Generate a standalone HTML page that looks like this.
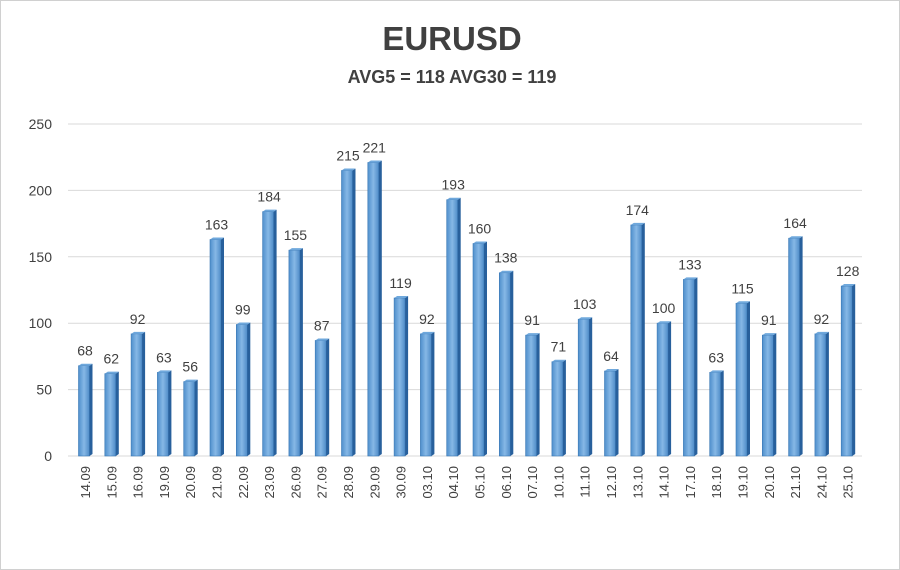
<!DOCTYPE html>
<html><head><meta charset="utf-8"><style>
body{margin:0;background:#fff}
svg{display:block;font-family:"Liberation Sans",sans-serif}
</style></head><body>
<svg id="chart" width="900" height="570" viewBox="0 0 900 570">
<defs>
<linearGradient id="bg" x1="0" x2="1" y1="0" y2="0">
<stop offset="0" stop-color="#4f8fcc"/><stop offset="0.5" stop-color="#86b8e6"/><stop offset="1" stop-color="#4f8cc8"/>
</linearGradient>
</defs>
<rect x="0.5" y="0.5" width="899" height="569" fill="#fff" stroke="#d0d0d0"/>
<text x="452" y="50" text-anchor="middle" font-size="33" font-weight="bold" fill="#404040">EURUSD</text>
<text x="452" y="83" text-anchor="middle" font-size="18" font-weight="bold" fill="#404040">AVG5 = 118 AVG30 = 119</text>
<g id="grid"></g><g id="bars"></g><g id="labels"></g>
</svg>
<script>
const categories=["14.09","15.09","16.09","19.09","20.09","21.09","22.09","23.09","26.09","27.09","28.09","29.09","30.09","03.10","04.10","05.10","06.10","07.10","10.10","11.10","12.10","13.10","14.10","17.10","18.10","19.10","20.10","21.10","24.10","25.10"];
const values=[68,62,92,63,56,163,99,184,155,87,215,221,119,92,193,160,138,91,71,103,64,174,100,133,63,115,91,164,92,128];
const yTicks=[0,50,100,150,200,250];
const NS="http://www.w3.org/2000/svg";
const y0=456,yTop=124,yMax=250;
const y=v=>y0-(v/yMax)*(y0-yTop);
const x=i=>85+i*26.3;
function mk(t,a,p){const e=document.createElementNS(NS,t);for(const k in a)e.setAttribute(k,a[k]);p.appendChild(e);return e;}
const grid=document.getElementById('grid'),bars=document.getElementById('bars'),labels=document.getElementById('labels');
yTicks.forEach(t=>{
 const l=mk('line',{x1:68,x2:862,y1:y(t),y2:y(t),stroke:'#d9d9d9','stroke-width':1},grid);
 
 
 const tx=mk('text',{x:52,y:y(t)+5,'text-anchor':'end','font-size':14,fill:'#404040'},grid);
 tx.textContent=t;
 
 
});
values.forEach((v,i)=>{
 const cx=x(i),w=11,top=y(v);
 const g=mk('g',{},bars);
 
 
 mk('rect',{x:cx-6.5,y:top,width:w,height:y0-top,fill:'url(#bg)',stroke:'#3a78b5','stroke-width':0.6},g);
 mk('polygon',{points:`${cx+4.5},${top} ${cx+7.5},${top-2} ${cx+7.5},${y0-2} ${cx+4.5},${y0}`,fill:'#28609c'},g);
 mk('polygon',{points:`${cx-6.5},${top} ${cx-3.5},${top-2} ${cx+7.5},${top-2} ${cx+4.5},${top}`,fill:'#6fa8dc'},g);
 const vt=mk('text',{x:cx,y:top-10,'text-anchor':'middle','font-size':14,fill:'#404040'},labels);
 vt.textContent=v;
 
 
 const ct=mk('text',{x:cx+5,y:466,'text-anchor':'end','font-size':13,fill:'#404040',transform:`rotate(-90 ${cx+5} 466)`},labels);
 ct.textContent=categories[i];
 
 
});
</script>
</body></html>
